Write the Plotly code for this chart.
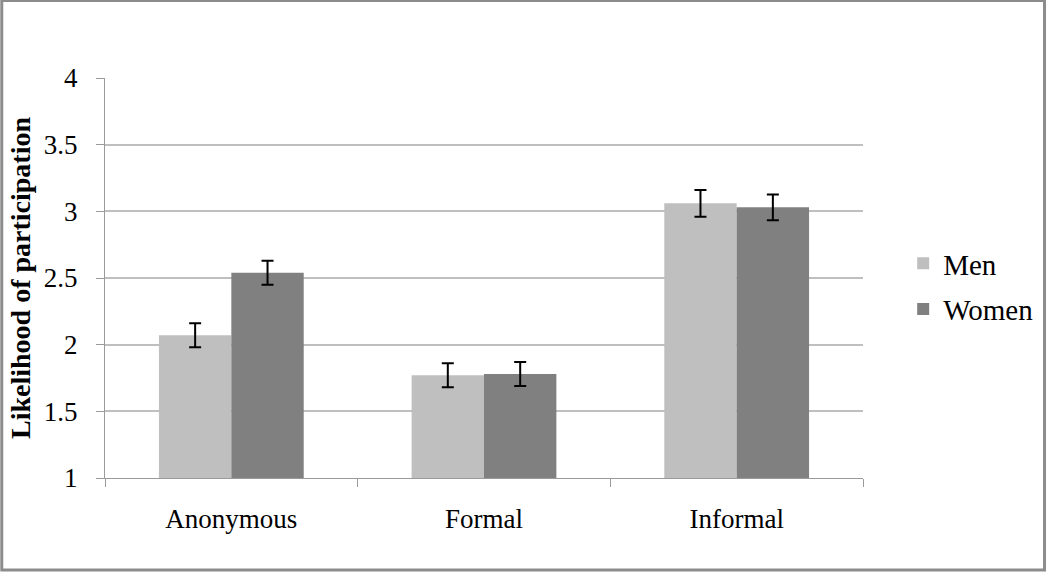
import plotly.graph_objects as go

categories = ["Anonymous", "Formal", "Informal"]
men = [2.07, 1.77, 3.06]
women = [2.54, 1.78, 3.03]
men_err = [0.09, 0.09, 0.10]
women_err = [0.09, 0.09, 0.097]
y_ticks = [1, 1.5, 2, 2.5, 3, 3.5, 4]

fig = go.Figure()
fig.add_trace(go.Bar(
    x=categories, y=men, name="Men", legendgroup="m",
    marker=dict(color="#bfbfbf", line=dict(width=0)),
    error_y=dict(type="data", array=men_err, color="black", thickness=2, width=6),
))
fig.add_trace(go.Bar(
    x=categories, y=women, name="Women", legendgroup="w",
    marker=dict(color="#808080", line=dict(width=0)),
    error_y=dict(type="data", array=women_err, color="black", thickness=2, width=6),
))

font = "Liberation Serif, Times New Roman, serif"
W, H = 1050, 572
L, R, T, B = 105, 185, 78, 94
pw, ph = W - L - R, H - T - B
fig.update_layout(
    width=W, height=H,
    margin=dict(l=L, r=R, t=T, b=B),
    paper_bgcolor="white", plot_bgcolor="white",
    barmode="group", bargap=0.427, bargroupgap=0,
    font=dict(family=font, size=26, color="black"),
    showlegend=True,
    legend=dict(x=1.053, y=0.479, xanchor="left", yanchor="middle",
                font=dict(family=font, size=29, color="black"), tracegroupgap=5,
                itemwidth=30, bgcolor="rgba(0,0,0,0)"),
    xaxis=dict(
        type="category", showline=True, linecolor="#9a9a9a", linewidth=1,
        ticks="outside", tickson="boundaries", ticklen=8, tickcolor="#9a9a9a",
        tickfont=dict(family=font, size=27), showgrid=False, ticklabelstandoff=17,
    ),
    yaxis=dict(
        range=[1, 4], tickvals=y_ticks, ticktext=[f"{v:g}" for v in y_ticks],
        showline=True, linecolor="#9a9a9a", linewidth=1,
        ticks="outside", ticklen=8, tickcolor="#9a9a9a",
        showgrid=True, gridcolor="#bfbfbf", gridwidth=1.5,
        tickfont=dict(family=font, size=27), ticklabelstandoff=13,
        title=dict(text="<b>Likelihood of participation</b>",
                   font=dict(family=font, size=28), standoff=5),
        zeroline=False,
    ),
    shapes=[dict(type="rect", xref="paper", yref="paper",
                 x0=-(L - 1.5) / pw, x1=1 + (R - 3) / pw,
                 y0=-(B - 2) / ph, y1=1 + (T - 0.5) / ph,
                 line=dict(color="#8c8c8c", width=3), fillcolor="rgba(0,0,0,0)")],
)

fig.write_html("out.html", config={"displayModeBar": False},
               post_script="document.body.style.margin='0';")
